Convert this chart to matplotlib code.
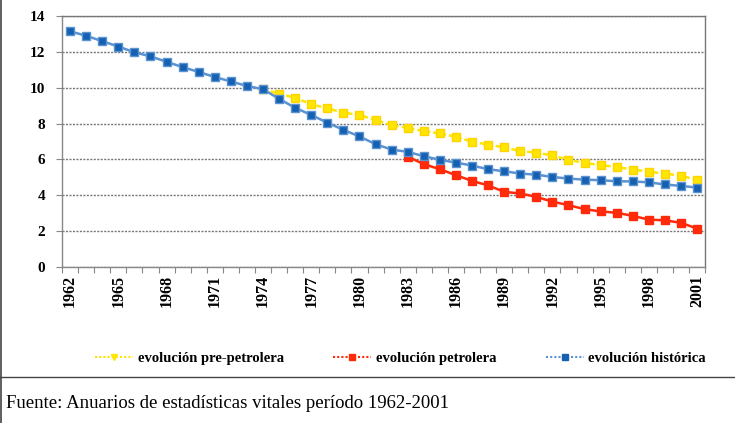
import numpy as np
import matplotlib
matplotlib.use("Agg")
import matplotlib.pyplot as plt
from matplotlib.lines import Line2D

years = list(range(1962, 2002))

historica = [13.15, 12.9, 12.6, 12.3, 11.98, 11.75, 11.45, 11.15, 10.88, 10.6,
             10.35, 10.1, 9.92, 9.38, 8.88, 8.48, 8.05, 7.65, 7.28, 6.85,
             6.55, 6.42, 6.18, 5.98, 5.82, 5.66, 5.45, 5.34, 5.21, 5.15,
             5.02, 4.93, 4.87, 4.84, 4.78, 4.77, 4.72, 4.6, 4.52, 4.43]

pre_years = list(range(1974, 2002))
pre_petrolera = [9.92, 9.66, 9.44, 9.08, 8.85, 8.61, 8.48, 8.2, 7.91, 7.76,
                 7.58, 7.45, 7.26, 6.99, 6.83, 6.67, 6.46, 6.38, 6.22, 5.98,
                 5.8, 5.68, 5.58, 5.43, 5.32, 5.2, 5.1, 4.84]

pet_years = list(range(1983, 2002))
petrolera = [6.15, 5.74, 5.45, 5.12, 4.8, 4.55, 4.19, 4.1, 3.91, 3.64,
             3.45, 3.22, 3.1, 3.02, 2.85, 2.64, 2.6, 2.46, 2.14]

yticks = [0, 2, 4, 6, 8, 10, 12, 14]
label_years = list(range(1962, 2002, 3))
names = ["evolución pre-petrolera", "evolución petrolera", "evolución histórica"]
source = "Fuente: Anuarios de estadísticas vitales período 1962-2001"

c_yel = "#FFE600"
c_red = "#FF2A0A"
c_blu = "#1560B0"
c_blu_l = "#5A92D2"

fig = plt.figure(figsize=(7.35, 4.23), dpi=100)
ax = fig.add_axes([0.0844, 0.369, 0.875, 0.593])

idx = lambda ys: [y - 1962 for y in ys]

ax.plot(idx(pre_years), pre_petrolera, color=c_yel, lw=1.8, ls=(0, (2, 1.2)),
        marker="s", ms=5.5, mfc=c_yel, mec="#FFD200", zorder=3)
ax.plot(idx(pet_years), petrolera, color=c_red, lw=1.8,
        marker="s", ms=5.5, mfc=c_red, mec=c_red, zorder=4)
ax.plot(idx(years), historica, color=c_blu_l, lw=1.8,
        marker="s", ms=5.5, mfc=c_blu, mec=c_blu_l, zorder=5)

ax.set_xlim(-0.5, 39.5)
ax.set_ylim(0, 14)
ax.set_yticks(yticks)
ax.set_yticklabels([str(v) for v in yticks], fontsize=11, fontweight="bold",
                   family="Liberation Serif")
ax.yaxis.grid(True, color="#777777", ls=(0, (1.5, 1)), lw=1.0)
ax.set_axisbelow(True)

ax.set_xticks([y - 1962 for y in label_years])
ax.set_xticklabels([str(y) for y in label_years], rotation=90, fontsize=11.5,
                   fontweight="bold", family="Liberation Serif")
ax.tick_params(axis="x", length=0, pad=6)
ax.set_xticks(np.arange(-0.5, 40, 1), minor=True)
ax.tick_params(axis="x", which="minor", length=4, color="#888888", width=0.8)
ax.tick_params(axis="y", length=4, color="#888888", width=0.8, pad=8)

for s in ["left", "bottom"]:
    ax.spines[s].set_color("#888888")
    ax.spines[s].set_linewidth(1.0)
for s in ["right", "top"]:
    ax.spines[s].set_color("#777777")
    ax.spines[s].set_linestyle((0, (1.5, 1)))
    ax.spines[s].set_linewidth(1.0)

handles = [
    Line2D([], [], color=c_yel, lw=1.5, ls=(0, (1, 1)), marker="v", ms=5, mfc=c_yel, mec=c_yel),
    Line2D([], [], color=c_red, lw=1.5, ls=(0, (1, 1)), marker="s", ms=5, mfc=c_red, mec=c_red),
    Line2D([], [], color=c_blu_l, lw=1.5, ls=(0, (1, 1)), marker="s", ms=4, mfc=c_blu, mec=c_blu),
]
fig.legend(handles, names, loc="center", bbox_to_anchor=(0.545, 0.153), ncol=3,
           frameon=False, handlelength=2.6, handletextpad=0.3, columnspacing=3.4,
           prop={"family": "Liberation Serif", "weight": "bold", "size": 10.5})

fig.text(0.008, 0.046, source, fontsize=13.5, family="Liberation Serif", va="center")

fig.add_artist(Line2D([0.0015, 0.0015], [0, 1], transform=fig.transFigure,
                      color="#444444", lw=1.2))
fig.add_artist(Line2D([0, 1], [0.108, 0.108], transform=fig.transFigure,
                      color="#444444", lw=1.0))

fig.savefig("out.png", dpi=100)
